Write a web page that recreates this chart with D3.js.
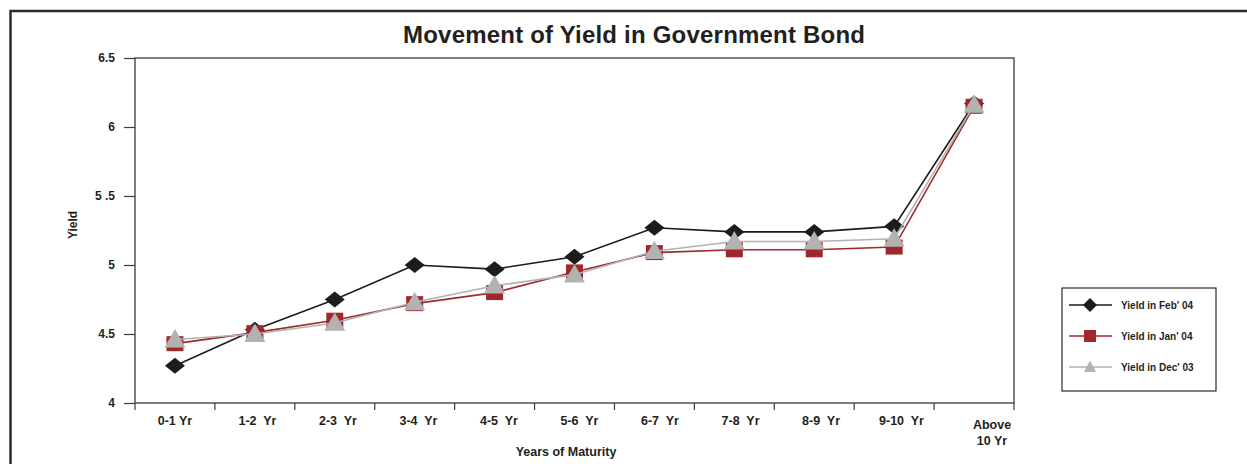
<!DOCTYPE html>
<html>
<head>
<meta charset="utf-8">
<script src="https://cdn.jsdelivr.net/npm/d3@7"></script>
<style>
  body { margin: 0; background: #fff; }
  svg { display: block; font-family: "Liberation Sans", Arial, sans-serif; }
</style>
</head>
<body>
<div id="app"></div>
<script>
`use strict`;

const Maturity = [`0-1 Yr`, `1-2  Yr`, `2-3  Yr`, `3-4  Yr`, `4-5  Yr`, `5-6  Yr`, `6-7  Yr`, `7-8  Yr`, `8-9  Yr`, `9-10  Yr`, `Above 10 Yr`];

const Feb04 = [4.27, 4.53, 4.75, 5.00, 4.97, 5.06, 5.27, 5.24, 5.24, 5.28, 6.17];
const Jan04 = [4.43, 4.51, 4.60, 4.72, 4.80, 4.95, 5.09, 5.11, 5.11, 5.13, 6.15];
const Dec03 = [4.46, 4.50, 4.58, 4.73, 4.85, 4.93, 5.10, 5.17, 5.17, 5.19, 6.16];

const YTicks = [4, 4.5, 5, 5.5, 6, 6.5];
const YTickText = [`4`, `4.5`, `5`, `5 .5`, `6`, `6.5`];

const SeriesName = [`Yield in Feb' 04`, `Yield in Jan' 04`, `Yield in Dec' 03`];

const W = 1247, H = 464;
const M = {left: 135, top: 58, right: 1014, bottom: 403};

let SVG = d3.select(`#app`).append(`svg`).attr(`width`, W).attr(`height`, H);

// outer frame (open past the window on right and bottom)
SVG.append(`rect`).attr(`x`, 10.5).attr(`y`, 11).attr(`width`, W + 20).attr(`height`, H + 20)
  .attr(`fill`, `none`).attr(`stroke`, `#2b2b2b`).attr(`stroke-width`, 2.5);

SVG.append(`text`).attr(`x`, 634).attr(`y`, 43).attr(`text-anchor`, `middle`)
  .attr(`font-size`, `24px`).attr(`font-weight`, `bold`).attr(`fill`, `#231f20`)
  .attr(`textLength`, 462).attr(`lengthAdjust`, `spacing`)
  .text(`Movement of Yield in Government Bond`);

let x = d3.scaleBand().domain(Maturity).range([M.left, M.right]);
let y = d3.scaleLinear().domain([4, 6.5]).range([M.bottom, M.top]);

// plot box
SVG.append(`rect`).attr(`x`, M.left).attr(`y`, M.top).attr(`width`, M.right - M.left).attr(`height`, M.bottom - M.top)
  .attr(`fill`, `none`).attr(`stroke`, `#3a3a3a`).attr(`stroke-width`, 1.3);

// y axis
let yAxis = d3.axisLeft(y).tickValues(YTicks).tickSize(11).tickPadding(9).tickFormat((d, i) => YTickText[i]);
let gy = SVG.append(`g`).attr(`transform`, `translate(${M.left},0)`).call(yAxis);
gy.select(`.domain`).remove();
gy.selectAll(`line`).attr(`stroke`, `#3a3a3a`).attr(`stroke-width`, 1.2);
gy.selectAll(`text`).attr(`font-size`, `12px`).attr(`font-weight`, `bold`).attr(`fill`, `#231f20`).attr(`font-family`, `"Liberation Sans", Arial, sans-serif`);

// x axis ticks at category boundaries
let Bounds = Maturity.map(d => x(d)).concat([M.right]);
SVG.append(`g`).selectAll(`line`).data(Bounds).enter().append(`line`)
  .attr(`x1`, d => d).attr(`x2`, d => d).attr(`y1`, M.bottom).attr(`y2`, M.bottom + 7)
  .attr(`stroke`, `#3a3a3a`).attr(`stroke-width`, 1.2);

let gx = SVG.append(`g`);
Maturity.forEach((d, i) => {
  let last = i === Maturity.length - 1;
  let cx = x(d) + x.bandwidth() / 2 + (last ? 18 : (i > 0 ? 2 + i * 0.6 : 0));
  let T = gx.append(`text`).attr(`text-anchor`, `middle`).attr(`font-size`, `12.5px`).attr(`font-weight`, `bold`)
    .attr(`fill`, `#231f20`).style(`white-space`, `pre`);
  if (last) {
    T.append(`tspan`).attr(`x`, cx).attr(`y`, 429).text(`Above`);
    T.append(`tspan`).attr(`x`, cx).attr(`y`, 445).text(`10 Yr`);
  } else {
    T.attr(`x`, cx).attr(`y`, 425).text(d);
  }
});

SVG.append(`text`).attr(`x`, 566).attr(`y`, 456).attr(`text-anchor`, `middle`)
  .attr(`font-size`, `12.5px`).attr(`font-weight`, `bold`).attr(`fill`, `#231f20`).text(`Years of Maturity`);

SVG.append(`text`).attr(`transform`, `translate(77,225) rotate(-90)`).attr(`text-anchor`, `middle`)
  .attr(`font-size`, `12px`).attr(`font-weight`, `bold`).attr(`fill`, `#231f20`).text(`Yield`);

// markers
const Shape = {
  diamond: (w, h) => `M0 ${-h} L${w} 0 L0 ${h} L${-w} 0 Z`,
  square: (w, h) => `M${-w} ${-h} H${w} V${h} H${-w} Z`,
  triangle: (w, h) => `M0 ${-h} L${w} ${h * 0.75} L${-w} ${h * 0.75} Z`
};

const Series = [
  {name: SeriesName[0], values: Feb04, color: `#1c1c1c`, shape: `diamond`, mw: 10, mh: 8, lw: 7, lh: 7},
  {name: SeriesName[1], values: Jan04, color: `#a0282d`, shape: `square`, mw: 8.5, mh: 7.5, lw: 6, lh: 6},
  {name: SeriesName[2], values: Dec03, color: `#b2b2b2`, shape: `triangle`, mw: 10.5, mh: 10.5, lw: 6, lh: 6.5}
];

let line = d3.line().x((d, i) => x(Maturity[i]) + x.bandwidth() / 2).y(d => y(d));

Series.forEach(S => {
  let G = SVG.append(`g`);
  G.append(`path`).attr(`d`, line(S.values)).attr(`fill`, `none`).attr(`stroke`, S.color).attr(`stroke-width`, 1.6);
  G.selectAll(`path.mark`).data(S.values).enter().append(`path`).attr(`class`, `mark`)
    .attr(`transform`, (d, i) => `translate(${x(Maturity[i]) + x.bandwidth() / 2},${y(d)})`)
    .attr(`d`, Shape[S.shape](S.mw, S.mh)).attr(`fill`, S.color);
});

// legend
let L = SVG.append(`g`);
L.append(`rect`).attr(`x`, 1062).attr(`y`, 288).attr(`width`, 154).attr(`height`, 103)
  .attr(`fill`, `#fff`).attr(`stroke`, `#2b2b2b`).attr(`stroke-width`, 1.2);

Series.forEach((S, i) => {
  let ly = 305 + i * 31;
  L.append(`line`).attr(`x1`, 1069).attr(`x2`, 1112).attr(`y1`, ly).attr(`y2`, ly).attr(`stroke`, S.color).attr(`stroke-width`, 1.6);
  L.append(`path`).attr(`transform`, `translate(1090,${ly})`).attr(`d`, Shape[S.shape](S.lw, S.lh)).attr(`fill`, S.color);
  L.append(`text`).attr(`x`, 1121).attr(`y`, ly + 4).attr(`font-size`, `10px`).attr(`font-weight`, `bold`)
    .attr(`fill`, `#231f20`).text(S.name);
});
</script>
</body>
</html>
